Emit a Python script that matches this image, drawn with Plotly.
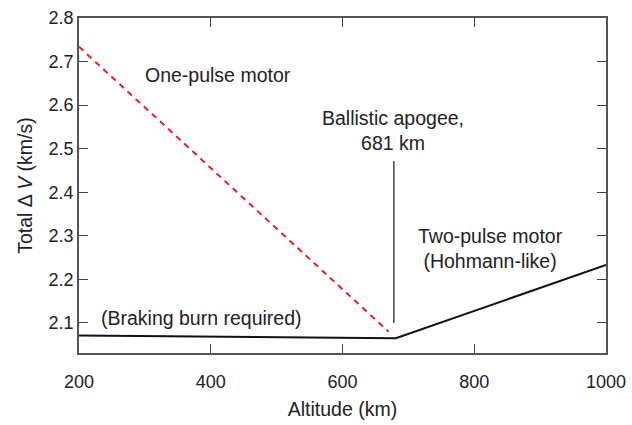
import plotly.graph_objects as go

# Data
two_pulse_alt = [200, 681, 1000]
two_pulse_dv = [2.071, 2.065, 2.233]
one_pulse_alt = [200, 670]
one_pulse_dv = [2.734, 2.080]
apogee_alt = [678, 678]
apogee_marker = [2.10, 2.472]
x_ticks = [200, 400, 600, 800, 1000]
y_ticks = [2.1, 2.2, 2.3, 2.4, 2.5, 2.6, 2.7, 2.8]

FONT = "Liberation Sans, Arial, sans-serif"
TXT = "#222222"

fig = go.Figure()
fig.add_trace(go.Scatter(x=one_pulse_alt, y=one_pulse_dv, mode="lines",
                         line=dict(color="#ee1c25", width=2, dash="6px,5px"),
                         showlegend=False, hoverinfo="skip"))
fig.add_trace(go.Scatter(x=two_pulse_alt, y=two_pulse_dv, mode="lines",
                         line=dict(color="#111111", width=2),
                         showlegend=False, hoverinfo="skip"))
fig.add_trace(go.Scatter(x=apogee_alt, y=apogee_marker, mode="lines",
                         line=dict(color="#111111", width=1.2),
                         showlegend=False, hoverinfo="skip"))

ann_font = dict(family=FONT, size=19.5, color=TXT)
fig.add_annotation(x=411, y=2.669, text="One-pulse motor", showarrow=False,
                   font=ann_font, xanchor="center", yanchor="middle")
fig.add_annotation(x=677, y=2.541, text="Ballistic apogee,<br>681 km", showarrow=False,
                   font=ann_font, xanchor="center", yanchor="middle")
fig.add_annotation(x=825, y=2.272, text="Two-pulse motor<br>(Hohmann-like)", showarrow=False,
                   font=ann_font, xanchor="center", yanchor="middle")
fig.add_annotation(x=231, y=2.111, text="(Braking burn required)", showarrow=False,
                   font=ann_font, xanchor="left", yanchor="middle")

axis_common = dict(showgrid=False, zeroline=False, showline=True, linecolor="#555555",
                   linewidth=1.5, mirror="ticks", ticks="inside", ticklen=9,
                   tickcolor="#444444", tickwidth=1.2, automargin=False,
                   tickfont=dict(family=FONT, size=18, color=TXT))

fig.update_xaxes(range=[200, 1000], tickvals=x_ticks, ticktext=[str(v) for v in x_ticks],
                 ticklabelstandoff=12,
                 title=dict(text="Altitude (km)", font=dict(family=FONT, size=19.5, color=TXT),
                            standoff=11),
                 **axis_common)
fig.update_yaxes(range=[2.031, 2.8], tickvals=y_ticks, ticktext=[f"{v:.1f}" for v in y_ticks],
                 title=dict(text="Total \u0394 <i>V</i> (km/s)",
                            font=dict(family=FONT, size=19.5, color=TXT), standoff=11),
                 **axis_common)

fig.update_layout(width=632, height=425, plot_bgcolor="white", paper_bgcolor="white",
                  margin=dict(l=79, r=26, t=18, b=72))

fig.write_html("out.html")
